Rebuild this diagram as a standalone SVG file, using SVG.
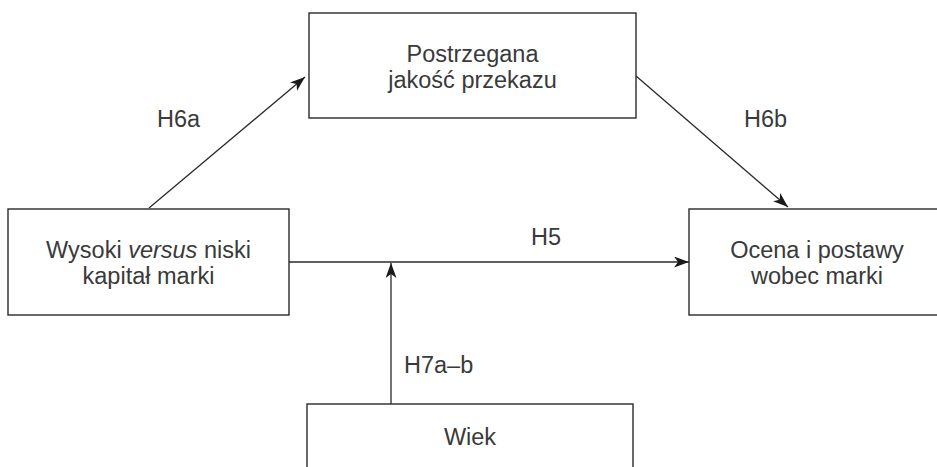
<svg xmlns="http://www.w3.org/2000/svg" width="937" height="467" viewBox="0 0 937 467">
<style>
.box{fill:#fff;stroke:#2a2a2a;stroke-width:1.4}
.t{font-family:"Liberation Sans",Arial,sans-serif;font-size:23.5px;fill:#3a3a3a;text-anchor:middle}
.l{font-family:"Liberation Sans",Arial,sans-serif;font-size:23.5px;fill:#3a3a3a}
.c{fill:none;stroke:#2a2a2a;stroke-width:1.3}
</style>
<defs>
<marker id="ah" markerUnits="userSpaceOnUse" markerWidth="16" markerHeight="12" refX="15" refY="5.5" orient="auto">
<path d="M0,0 L15,5.5 L0,11 L4,5.5 z" fill="#1a1a1a"/>
</marker>
</defs>
<rect width="937" height="467" fill="#fff"/>
<g id="connectors">
<line class="c" x1="149" y1="208" x2="305" y2="77" marker-end="url(#ah)"/>
<line class="c" x1="636" y1="76" x2="788" y2="207" marker-end="url(#ah)"/>
<line class="c" x1="289" y1="262" x2="689" y2="262" marker-end="url(#ah)"/>
<line class="c" x1="391" y1="404" x2="391" y2="263" marker-end="url(#ah)"/>
<text class="l" x="157" y="127">H6a</text>
<text class="l" x="744" y="127">H6b</text>
<text class="l" x="531" y="245">H5</text>
<text class="l" x="404" y="373">H7a–b</text>
</g>
<g id="node-jakosc">
<rect class="box" x="309" y="13" width="327" height="105"/>
<text class="t" x="472.5" y="62">Postrzegana</text>
<text class="t" x="472.5" y="88">jakość przekazu</text>
</g>
<g id="node-kapital">
<rect class="box" x="8" y="209" width="281" height="106"/>
<text class="t" x="148.5" y="258">Wysoki <tspan font-style="italic">versus</tspan> niski</text>
<text class="t" x="148.5" y="284">kapitał marki</text>
</g>
<g id="node-ocena">
<rect class="box" x="689" y="209" width="256" height="106"/>
<text class="t" x="817" y="258">Ocena i postawy</text>
<text class="t" x="817" y="284">wobec marki</text>
</g>
<g id="node-wiek">
<rect class="box" x="307" y="404" width="326" height="106"/>
<text class="t" x="470" y="445">Wiek</text>
</g>
</svg>
